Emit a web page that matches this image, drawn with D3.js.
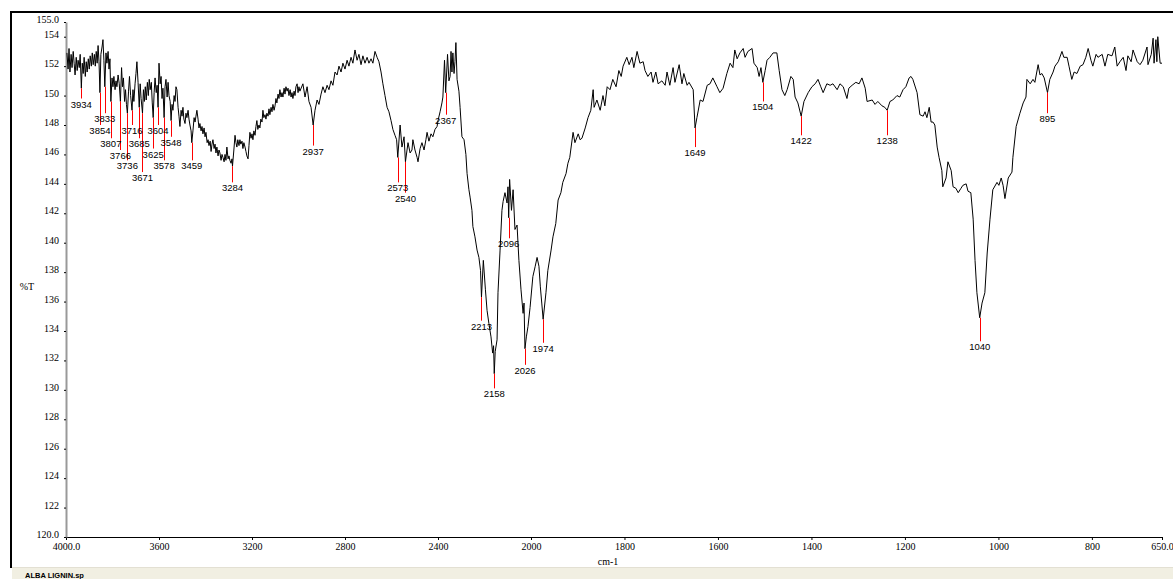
<!DOCTYPE html>
<html><head><meta charset="utf-8">
<script src="https://cdn.jsdelivr.net/npm/d3@7"></script>
<style>body{margin:0;background:#fff}svg{display:block}</style>
</head><body><svg id="c" width="1173" height="579"></svg>
<script>
const wavenumber = [
3996,3991,3987,3983,3978,3974,3969,3965,3961,3956,3952,3948,3943,3939,3934,3930,3926,3922,3917,3913,
3909,3904,3900,3896,3891,3887,3883,3878,3874,3870,3866,3862,3858,3854,3850,3845,3841,3837,3833,3828,
3824,3819,3815,3811,3807,3802,3798,3794,3789,3785,3781,3776,3771,3766,3761,3757,3753,3748,3744,3740,
3736,3731,3727,3722,3716,3712,3708,3703,3699,3695,3690,3685,3681,3677,3671,3667,3663,3659,3655,3650,
3646,3642,3638,3633,3629,3625,3621,3617,3612,3608,3604,3600,3595,3591,3587,3583,3578,3574,3570,3565,
3561,3557,3552,3548,3544,3540,3535,3531,3527,3523,3518,3514,3510,3505,3501,3497,3493,3488,3484,3480,
3475,3471,3467,3462,3459,3454,3449,3445,3441,3437,3432,3428,3424,3419,3415,3411,3406,3402,3398,3393,
3389,3385,3380,3376,3372,3368,3363,3359,3355,3351,3346,3342,3338,3333,3329,3325,3320,3316,3312,3308,
3303,3299,3295,3290,3286,3284,3278,3273,3269,3265,3261,3256,3252,3248,3243,3239,3235,3230,3226,3222,
3217,3213,3209,3204,3200,3196,3192,3187,3183,3179,3175,3170,3166,3162,3157,3153,3149,3144,3140,3136,
3131,3127,3123,3118,3114,3110,3105,3101,3097,3093,3088,3084,3080,3075,3071,3067,3062,3058,3054,3049,
3045,3041,3036,3032,3028,3024,3019,3015,3011,3006,3002,2998,2994,
2981,2972,2963,2955,2946,2937,2929,2920,2912,2903,2895,2886,2877,2869,2860,2852,2843,2834,2826,2817,
2809,2800,2791,2783,2774,2766,2757,2748,2740,2731,2723,2714,2705,2697,2688,2680,2671,2662,2654,2645,
2637,2628,2619,2611,2602,2594,2585,2578,2573,2563,2555,2546,2540,2529,2520,2512,2508,2499,2490,2486,
2477,2469,2460,2452,2447,2439,2430,2422,2413,2404,2400,2391,2383,2379,2372,2367,2359,2353,2348,2344,
2340,2336,2331,2327,2323,2318,2310,2305,2297,2288,2280,2275,2267,2262,2254,2250,2241,2232,2224,2217,
2213,2205,2196,2189,2181,2172,2165,2161,2158,2154,2146,2142,2133,2125,2120,2112,2103,2099,2096,2092,
2084,2077,2069,2060,2052,2043,2034,2030,2026,2020,2013,2004,1996,1991,1987,1983,1980,1977,1974,1968,
1964,1957,1953,1947,1942,1936,1932,1925,1921,1917,1910,1906,1899,1895,1891,1884,1878,1872,1867,1865,
1859,1852,
1846,1842,1837,1831,1825,1818,1812,1807,1803,1795,1790,1784,1780,1773,1767,1760,1756,1750,1743,1739,
1733,1728,1720,1713,1709,1703,1696,1692,1683,1677,1673,1666,1662,1653,1649,1645,1638,1632,1623,1617,
1611,1602,1596,1589,1581,1574,1568,1564,1559,1553,1546,1542,1536,1527,1523,1516,1512,1508,1504,1499,
1495,1489,1482,1474,1469,1463,1457,1452,1444,1439,1435,1429,1422,1416,1407,1399,1392,1386,1380,1375,
1367,1360,1354,1345,1339,1332,1324,1320,1313,1305,1298,1292,1285,1281,1270,1264,1258,1249,1243,1238,
1232,1226,1217,1211,1204,1198,1191,1187,1183,1174,1168,1161,1157,1153,1148,1144,1140,1136,1131,1127,
1121,1119,1112,1108,1101,1097,1091,1086,1080,1076,1069,1065,1059,1054,1050,1046,1040,1035,1029,1024,
1018,1012,1003,999,994,990,986,979,971,969,962,954,947,941,939,932,926,922,915,911,
907,902,895,890,883,879,872,864,860,853,849,843,838,832,825,819,813,808,802,798,
791,787,778,772,766,757,751,746,740,733,727,723,716,712,703,697,691,682,680,673,
669,667,663,661,659,654,650
];
const transmittance = [
152.9,151.8,153.2,151.6,152.8,151.9,153.0,152.2,151.4,152.6,151.7,152.4,151.9,152.8,150.5,152.2,151.5,152.6,151.3,152.3,
151.6,152.5,151.8,152.7,152.0,152.9,152.1,152.8,152.0,153.0,152.2,153.4,152.3,150.2,152.8,153.3,153.8,152.4,150.6,152.9,
152.2,153.0,151.8,152.5,149.6,151.2,150.6,151.3,150.4,151.0,150.6,151.4,150.8,149.6,151.9,150.6,151.2,149.6,150.4,149.4,
148.8,150.3,151.3,150.0,149.0,150.4,149.6,150.8,151.5,152.3,150.9,149.2,150.8,149.8,148.8,150.4,149.6,150.6,149.7,150.9,
150.0,151.1,150.4,150.9,149.5,148.5,150.2,151.2,150.2,150.7,149.2,152.2,150.8,151.3,149.8,150.5,148.5,150.6,151.1,149.9,
150.9,150.0,149.6,148.3,149.4,149.0,150.0,149.6,150.6,150.4,149.2,148.6,147.9,149.0,148.6,149.2,148.4,148.1,148.8,148.5,
149.0,148.4,148.0,147.6,146.8,147.6,148.5,148.2,148.6,149.0,148.4,147.8,148.1,147.6,147.9,147.4,147.8,147.2,147.5,146.8,
147.0,146.6,146.9,146.2,146.7,147.0,146.4,146.7,146.1,146.5,145.9,146.3,146.1,145.6,146.0,145.8,145.5,146.0,145.6,146.5,
145.7,145.9,145.6,145.4,145.7,145.2,146.3,147.3,146.8,146.5,147.0,146.6,147.0,146.7,146.9,146.4,146.8,146.5,146.2,145.9,
145.7,146.6,147.5,147.1,147.4,147.0,147.6,147.3,147.9,148.3,147.7,148.0,147.8,148.4,148.2,149.0,148.5,148.7,148.4,148.8,
148.6,149.1,148.7,149.2,148.9,149.4,149.0,149.3,149.8,149.5,150.1,149.8,150.4,149.9,150.2,149.9,150.5,150.1,150.6,150.3,
150.5,150.0,150.4,149.9,150.2,149.8,150.3,150.0,150.6,150.8,150.2,150.6,150.3,
150.8,149.9,150.6,149.6,149.2,148.0,149.0,149.7,149.4,150.1,150.6,150.2,150.7,150.4,151.0,150.7,151.6,151.4,152.0,151.6,
152.2,151.8,152.4,152.0,152.6,152.2,153.1,152.4,152.8,152.1,152.7,152.2,152.6,152.2,152.5,152.2,153.0,152.6,152.3,151.6,
150.8,150.0,149.2,148.9,148.3,147.7,147.3,147.0,145.8,148.0,146.5,147.2,145.5,146.8,146.1,146.3,147.0,146.3,145.8,145.5,
146.4,146.8,146.3,147.0,147.5,146.9,147.4,147.2,147.7,147.9,148.3,148.9,149.5,149.9,152.4,150.2,152.8,151.0,151.3,153.0,
151.6,152.9,151.5,152.3,153.6,151.1,150.3,149.2,147.2,147.0,146.0,144.7,143.6,143.1,142.2,141.1,140.4,139.5,139.0,138.1,
136.3,138.8,136.8,135.4,134.5,133.6,132.5,133.0,131.1,132.6,133.4,136.6,139.5,142.2,142.8,143.4,142.7,143.8,141.7,144.3,
142.2,143.6,140.9,141.2,138.8,136.8,135.2,135.9,132.8,133.6,134.3,135.6,137.7,138.4,139.0,138.4,137.0,135.9,134.8,136.6,
138.1,139.5,140.4,141.3,142.9,143.4,144.1,144.7,145.4,145.8,147.5,146.8,147.4,147.0,147.1,147.8,148.5,149.0,150.4,149.2,
149.7,149.0,
150.0,149.3,150.6,150.4,151.1,150.6,151.7,151.3,152.0,152.6,152.1,152.6,151.9,153.0,152.2,152.3,151.7,151.3,151.6,150.9,
151.6,150.8,151.0,150.7,151.6,150.7,151.9,150.9,152.1,150.8,151.5,150.7,150.9,150.4,147.8,148.5,149.7,149.6,150.7,150.8,
151.2,150.6,150.2,150.5,151.5,152.2,151.9,153.1,152.5,152.9,153.2,152.6,153.0,153.2,152.2,151.9,151.3,151.9,150.9,151.7,
152.4,152.6,152.9,152.9,151.7,150.4,150.0,150.4,151.3,151.1,149.9,149.5,148.6,149.6,150.2,150.6,150.8,151.1,150.6,150.2,
150.8,150.7,150.8,150.4,150.8,150.6,149.8,150.5,150.7,150.9,150.8,151.2,150.5,149.6,149.7,149.4,149.6,149.3,149.2,149.0,
149.6,149.7,150.0,149.9,150.4,150.6,151.2,151.3,151.1,150.2,148.7,148.6,148.9,148.5,149.2,148.2,148.2,148.0,146.5,145.8,
144.9,143.8,144.4,145.5,144.9,143.8,143.7,143.4,143.7,143.9,144.0,143.5,143.4,141.6,138.8,136.6,134.9,135.9,136.6,139.3,
141.6,143.6,144.1,143.9,144.4,143.9,143.0,144.4,144.8,145.8,147.9,148.8,149.5,149.9,151.1,150.8,151.1,150.9,152.1,151.4,
151.5,151.2,150.2,151.1,151.6,152.0,152.3,153.0,152.6,152.6,152.0,151.1,151.6,151.5,152.0,152.1,152.6,153.2,152.4,152.0,
152.8,152.6,152.8,152.0,152.8,152.7,153.3,152.0,152.3,152.6,151.7,152.7,152.3,153.1,152.3,152.1,152.4,153.3,152.1,152.8,
153.9,152.2,153.8,152.3,154.0,152.2,152.2
];
const peakWavenumber = [3934,3854,3833,3807,3766,3736,3716,3685,3671,3625,3604,3578,3548,3459,3284,2937,2573,2540,2367,2213,2158,2096,2026,1974,1649,1504,1422,1238,1040,895];
const peakTransmittance = [150.5,150.2,150.6,149.6,149.6,148.8,149.0,149.2,148.8,148.5,149.2,148.5,148.3,146.8,145.2,148.0,145.8,145.5,150.2,136.3,131.1,141.7,132.8,134.8,147.8,150.9,148.6,149.0,134.9,150.2];
const peakLabelLevel = [149.8,148.0,148.8,147.1,146.3,145.6,148.0,147.1,144.8,146.4,148.0,145.6,147.2,145.6,144.1,146.6,144.1,143.4,148.7,134.7,130.1,140.3,131.7,133.2,146.5,149.6,147.3,147.3,133.3,148.8];
const xTickValues = [4000,3600,3200,2800,2400,2000,1800,1600,1400,1200,1000,800,650];
const yTickValues = [120,122,124,126,128,130,132,134,136,138,140,142,144,146,148,150,152,154,155];

const svg = d3.select('#c');
const W = 1173, H = 579;
svg.append('rect').attr('width', W).attr('height', H).attr('fill', '#fff');

// outer frame
svg.append('line').attr('x1', 10).attr('x2', W).attr('y1', 12).attr('y2', 12).attr('stroke', '#000').attr('stroke-width', 2);
svg.append('line').attr('x1', 11).attr('x2', 11).attr('y1', 11).attr('y2', 568).attr('stroke', '#000').attr('stroke-width', 2);

const x = d3.scaleLinear().domain([4000, 2000, 650]).range([66, 531, 1162]);
const y = d3.scaleLinear().domain([120, 155]).range([537, 22]);

// x axis
const xAxis = svg.append('g').attr('transform', 'translate(0,537)')
  .call(d3.axisBottom(x).tickValues(xTickValues).tickSize(3).tickSizeOuter(0).tickPadding(3)
    .tickFormat(d => (d === 4000 || d === 650) ? d.toFixed(1) : String(d)));
xAxis.select('.domain').attr('stroke', '#000');
xAxis.selectAll('text').attr('font-family', 'Liberation Serif').attr('font-size', 10).attr('fill', '#000');

// y axis
const yAxis = svg.append('g').attr('transform', 'translate(66,0)')
  .call(d3.axisLeft(y).tickValues(yTickValues).tickSize(2).tickSizeOuter(0).tickPadding(5)
    .tickFormat(d => (d === 155 || d === 120) ? d.toFixed(1) : String(d)));
yAxis.select('.domain').attr('stroke', '#999').attr('stroke-width', 2);
yAxis.selectAll('.tick line').attr('stroke', '#000');
yAxis.selectAll('text').attr('font-family', 'Liberation Serif').attr('font-size', 10).attr('fill', '#000').attr('dy', '0.05em');

svg.append('text').attr('x', 27).attr('y', 290).attr('text-anchor', 'middle')
  .attr('font-family', 'Liberation Serif').attr('font-size', 10).text('%T');

// spectrum
const data = wavenumber.map((w, i) => ({ w, t: transmittance[i] }));
svg.append('path').datum(data)
  .attr('fill', 'none').attr('stroke', '#000').attr('stroke-width', 1)
  .attr('stroke-linejoin', 'round')
  .attr('d', d3.line().x(d => x(d.w)).y(d => y(d.t)));

// peak markers
const peaks = peakWavenumber.map((w, i) => ({ w, t: peakTransmittance[i], l: peakLabelLevel[i] }));
const pg = svg.append('g');
pg.selectAll('line').data(peaks).join('line')
  .attr('x1', d => Math.round(x(d.w)) + 0.5).attr('x2', d => Math.round(x(d.w)) + 0.5)
  .attr('y1', d => y(d.t)).attr('y2', d => y(d.l))
  .attr('stroke', '#f00').attr('stroke-width', 1);
pg.selectAll('text').data(peaks).join('text')
  .attr('x', d => x(d.w)).attr('y', d => y(d.l) + 9)
  .attr('text-anchor', 'middle').attr('font-family', 'Liberation Sans').attr('font-size', 9.5)
  .attr('fill', '#000').text(d => String(d.w));

// status strip
svg.append('rect').attr('x', 12).attr('y', 567).attr('width', W - 12).attr('height', H - 567).attr('fill', '#f1efe2');
svg.append('line').attr('x1', 12).attr('x2', W).attr('y1', 567.5).attr('y2', 567.5).attr('stroke', '#e3e0d3');
svg.append('text').attr('x', 25).attr('y', 578).attr('font-family', 'Liberation Sans').attr('font-weight', 'bold')
  .attr('font-size', 7.5).attr('fill', '#000').text('ALBA LIGNIN.sp');

svg.append('text').attr('x', 608).attr('y', 565).attr('text-anchor', 'middle')
  .attr('font-family', 'Liberation Serif').attr('font-size', 10).text('cm-1');
</script></body></html>
